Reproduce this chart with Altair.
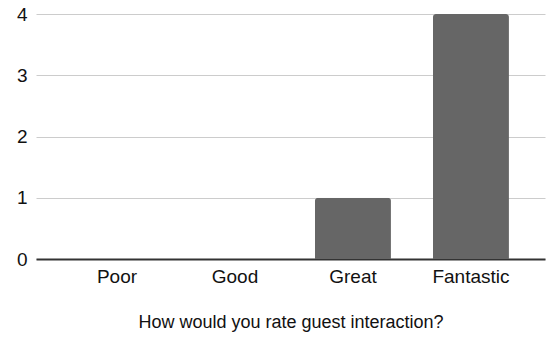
import altair as alt
import pandas as pd

# Survey responses per rating
ratings = ["Poor", "Good", "Great", "Fantastic"]
counts = [0, 0, 1, 4]

df = pd.DataFrame({"rating": ratings, "count": counts})

FONT = "Liberation Sans"
TEXT = "#111111"

bars = alt.Chart(df).mark_bar(
    color="#666666",
    cornerRadiusTopLeft=3,
    cornerRadiusTopRight=3,
).encode(
    x=alt.X(
        "rating:N",
        sort=ratings,
        title="How would you rate guest interaction?",
        scale=alt.Scale(paddingInner=0.356, paddingOuter=0.335, align=0.544),
        axis=alt.Axis(
            labelAngle=0,
            labelFont=FONT,
            labelFontSize=19,
            labelColor=TEXT,
            labelPadding=8,
            ticks=False,
            grid=False,
            domainColor="#333333",
            domainWidth=2,
            titleFont=FONT,
            titleFontSize=18,
            titleFontWeight="normal",
            titleColor=TEXT,
            titlePadding=27,
        ),
    ),
    y=alt.Y(
        "count:Q",
        title=None,
        scale=alt.Scale(domain=[0, 4], nice=False),
        axis=alt.Axis(
            values=[0, 1, 2, 3, 4],
            format="d",
            labelFont=FONT,
            labelFontSize=19,
            labelColor=TEXT,
            labelPadding=9,
            ticks=False,
            domain=False,
            gridColor="#cccccc",
            gridWidth=1,
        ),
    ),
)

chart = bars.properties(
    width=509,
    height=245,
    background="white",
    autosize=alt.AutoSizeParams(type="none"),
    padding={"left": 36, "top": 14, "right": 2, "bottom": 85},
).configure_view(stroke=None)

chart.save("out.html", embed_options={"renderer": "svg", "actions": False})
